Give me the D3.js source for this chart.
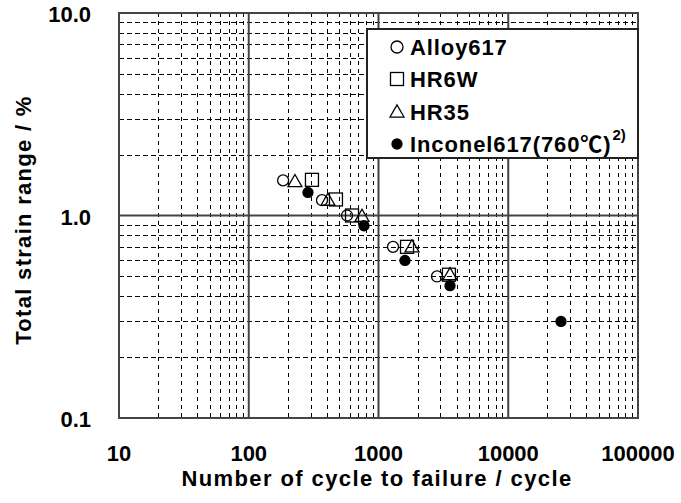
<!DOCTYPE html>
<html>
<head>
<meta charset="utf-8">
<script src="https://cdn.jsdelivr.net/npm/d3@7"></script>
<style>
  body { margin: 0; background: #fff; }
  svg text { font-family: "Liberation Sans", Arial, "Noto Sans CJK JP", sans-serif; font-weight: bold; fill: #000; }
</style>
</head>
<body>
<div id="chart"></div>
<script>
// cycles to failure (x) and total strain range % (y)
const alloy617Cycles = [184, 367, 572, 1294, 2825];
const alloy617Strain = [1.49, 1.19, 1.0, 0.70, 0.50];
const hr6wCycles = [307, 470, 625, 1659, 3490];
const hr6wStrain = [1.50, 1.20, 1.0, 0.70, 0.51];
const hr35Cycles = [227, 408, 746, 1812, 3557];
const hr35Strain = [1.47, 1.19, 0.99, 0.70, 0.51];
const inconelCycles = [286, 773, 1600, 3557, 25500];
const inconelStrain = [1.30, 0.89, 0.60, 0.45, 0.30];

const xTicks = [10, 100, 1000, 10000, 100000];
const yTicks = [0.1, 1.0, 10.0];
const seriesNames = ["Alloy617", "HR6W", "HR35", "Inconel617(760\u2103)"];

const width = 681, height = 503;
const plot = { left: 119, right: 638, top: 13, bottom: 418 };

const svg = d3.select('#chart').append('svg')
    .attr('width', width)
    .attr('height', height);

const x = d3.scaleLog().domain([10, 100000]).range([plot.left, plot.right]);
const y = d3.scaleLog().domain([0.1, 10]).range([plot.bottom, plot.top]);

// minor grid
const minorX = [];
for (let d = 10; d < 100000; d *= 10) {
    for (let k = 2; k <= 9; k++) minorX.push(d * k);
}
const minorY = [];
for (let d = 0.1; d < 10; d *= 10) {
    for (let k = 2; k <= 9; k++) minorY.push(d * k);
}

svg.append('g').selectAll('line')
    .data(minorY)
    .enter().append('line')
    .attr('x1', plot.left).attr('x2', plot.right)
    .attr('y1', d => Math.round(y(d)) + 0.5).attr('y2', d => Math.round(y(d)) + 0.5)
    .attr('stroke', '#000')
    .attr('stroke-width', 1)
    .attr('stroke-dasharray', '5,3');

svg.append('g').selectAll('line')
    .data(minorX)
    .enter().append('line')
    .attr('x1', d => Math.round(x(d)) + 0.5).attr('x2', d => Math.round(x(d)) + 0.5)
    .attr('y1', plot.top).attr('y2', plot.bottom)
    .attr('stroke', '#000')
    .attr('stroke-width', 1)
    .attr('stroke-dasharray', '4,4');

// major grid
svg.append('g').selectAll('line')
    .data(xTicks.slice(1, -1))
    .enter().append('line')
    .attr('x1', d => x(d)).attr('x2', d => x(d))
    .attr('y1', plot.top).attr('y2', plot.bottom)
    .attr('stroke', '#444')
    .attr('stroke-width', 2);

svg.append('g').selectAll('line')
    .data(yTicks.slice(1, -1))
    .enter().append('line')
    .attr('x1', plot.left).attr('x2', plot.right)
    .attr('y1', d => y(d)).attr('y2', d => y(d))
    .attr('stroke', '#444')
    .attr('stroke-width', 2);

// plot frame
svg.append('rect')
    .attr('x', plot.left).attr('y', plot.top)
    .attr('width', plot.right - plot.left)
    .attr('height', plot.bottom - plot.top)
    .attr('fill', 'none')
    .attr('stroke', '#444')
    .attr('stroke-width', 2);

// tick labels
svg.append('g').selectAll('text')
    .data(yTicks)
    .enter().append('text')
    .attr('x', 91)
    .attr('y', d => y(d) + 9)
    .attr('text-anchor', 'end')
    .style('font-size', '22px')
    .text(d => d.toFixed(1));

svg.append('g').selectAll('text')
    .data(xTicks)
    .enter().append('text')
    .attr('x', d => x(d))
    .attr('y', 461)
    .attr('text-anchor', 'middle')
    .style('font-size', '22px')
    .text(d => d);

// axis titles
svg.append('text')
    .attr('x', 377).attr('y', 486)
    .attr('text-anchor', 'middle')
    .style('font-size', '22px')
    .style('letter-spacing', '1.4px')
    .text('Number of cycle to failure / cycle');

svg.append('text')
    .attr('transform', 'translate(31,220)rotate(-90)')
    .attr('text-anchor', 'middle')
    .style('font-size', '22px')
    .style('letter-spacing', '1.3px')
    .text('Total strain range / %');

// marker painters
const tri = d3.symbol().type(d3.symbolTriangle).size(85);
function drawCircle(g, cx, cy, r, filled) {
    g.append('circle').attr('cx', cx).attr('cy', cy).attr('r', r)
        .attr('fill', filled ? '#000' : 'none')
        .attr('stroke', '#000').attr('stroke-width', 1.3);
}
function drawSquare(g, cx, cy, s) {
    g.append('rect').attr('x', cx - s / 2).attr('y', cy - s / 2)
        .attr('width', s).attr('height', s)
        .attr('fill', 'none').attr('stroke', '#000').attr('stroke-width', 1.3);
}
function drawTriangle(g, cx, cy) {
    g.append('path').attr('d', tri())
        .attr('transform', 'translate(' + cx + ',' + (cy + 1) + ')')
        .attr('fill', 'none').attr('stroke', '#000').attr('stroke-width', 1.3);
}

const marks = svg.append('g');
alloy617Cycles.forEach((c, i) => drawCircle(marks, x(c), y(alloy617Strain[i]), 5.5, false));
hr6wCycles.forEach((c, i) => drawSquare(marks, x(c), y(hr6wStrain[i]), 13));
hr35Cycles.forEach((c, i) => drawTriangle(marks, x(c), y(hr35Strain[i])));
inconelCycles.forEach((c, i) => drawCircle(marks, x(c), y(inconelStrain[i]), 5, true));

// legend
const legend = svg.append('g');
legend.append('rect')
    .attr('x', 367).attr('y', 29)
    .attr('width', plot.right - 367).attr('height', 129)
    .attr('fill', '#fff')
    .attr('stroke', '#222')
    .attr('stroke-width', 2);

const rowY = [47, 79, 112, 144];
drawCircle(legend, 397, rowY[0], 6, false);
drawSquare(legend, 397, rowY[1], 13);
drawTriangle(legend, 397, rowY[2]);
drawCircle(legend, 397, rowY[3], 5, true);

const labs = legend.selectAll('text.lab')
    .data(seriesNames)
    .enter().append('text')
    .attr('class', 'lab')
    .attr('x', 410)
    .attr('y', (d, i) => rowY[i] + 8)
    .style('font-size', '22px')
    .style('letter-spacing', '0.9px');
labs.append('tspan').text(d => d);
// footnote mark on the last entry
labs.filter((d, i) => i === 3)
    .append('tspan')
    .attr('dx', 1)
    .attr('dy', -12)
    .style('font-size', '15px')
    .style('letter-spacing', '0px')
    .text('2)');
</script>
</body>
</html>
